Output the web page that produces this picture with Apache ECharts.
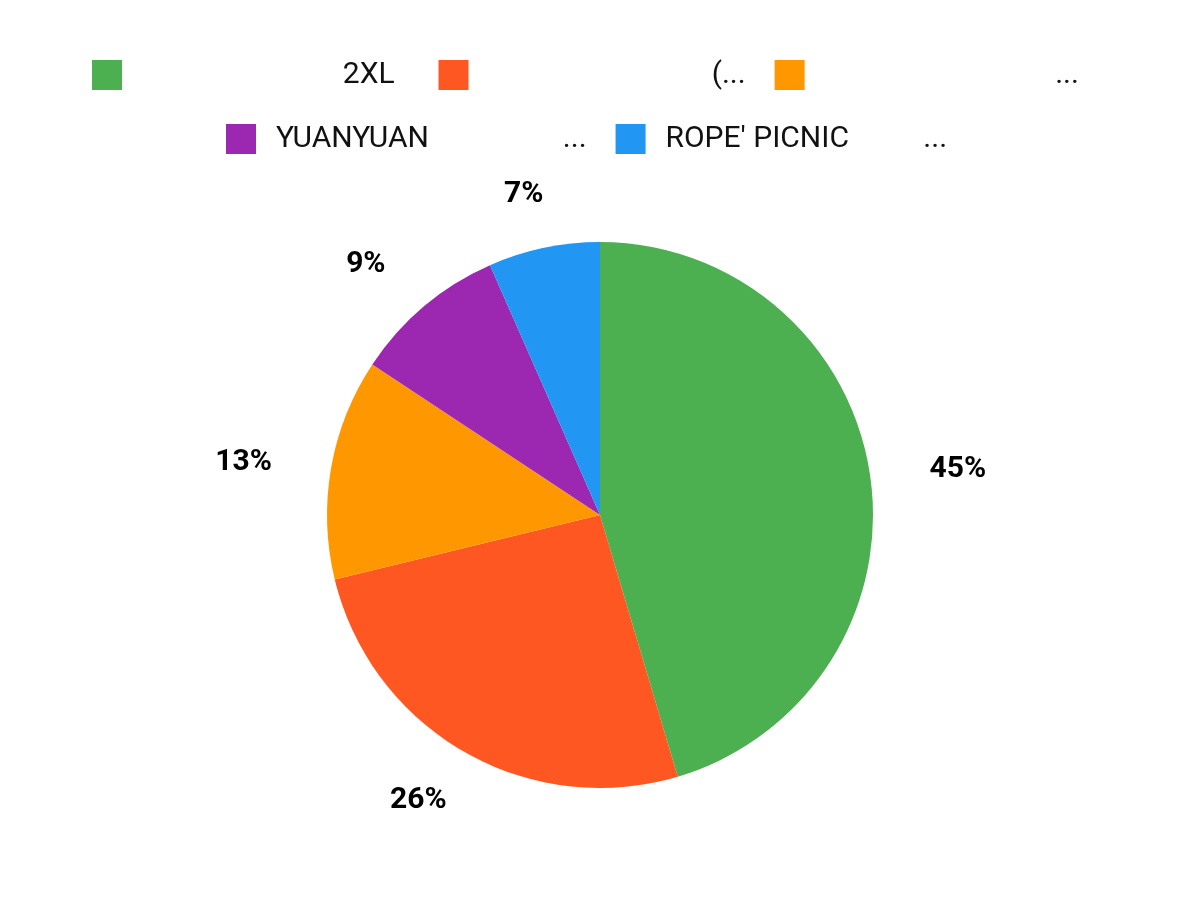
<!DOCTYPE html>
<html>
<head>
<meta charset="utf-8">
<script src="https://cdn.jsdelivr.net/npm/echarts@6/dist/echarts.min.js"></script>
<style>
  html, body { margin: 0; padding: 0; background: #ffffff; }
  #chart { width: 1200px; height: 900px; }
</style>
</head>
<body>
<div id="chart"></div>
<script>
// Legend / category names as displayed (glyphs that did not render appear as blank space)
const categories = [
  '                             2XL  ',
  '                                (...',
  '                                 ...',
  '  YUANYUAN                  ...',
  "  ROPE' PICNIC          ..."
];
const values = [45.4, 25.8, 13.1, 9.1, 6.6];
const colors = ['#4CAF50', '#FF5722', '#FF9800', '#9C27B0', '#2196F3'];
const legendRow1 = categories.slice(0, 3);
const legendRow2 = categories.slice(3);
// small label nudges (style only)
const labelDx = [0, 15, 0, 2, 16];
const labelDy = [2, 1, 4, 0, 0];

const chart = echarts.init(document.getElementById('chart'), null, { renderer: 'canvas' });

const legendCommon = {
  orient: 'horizontal',
  icon: 'rect',
  itemWidth: 30,
  itemHeight: 30,
  itemGap: 29,
  textStyle: { fontFamily: 'Roboto', fontSize: 30, color: '#111111' }
};

chart.setOption({
  animation: false,
  color: colors,
  legend: [
    Object.assign({}, legendCommon, { data: legendRow1, left: 87, top: 55 }),
    Object.assign({}, legendCommon, { data: legendRow2, left: 221, top: 119 })
  ],
  series: [{
    type: 'pie',
    center: [600, 515],
    radius: 273,
    startAngle: 90,
    clockwise: true,
    avoidLabelOverlap: false,
    data: categories.map((n, i) => ({ name: n, value: values[i] })),
    label: {
      show: true,
      position: 'outside',
      formatter: p => Math.round(p.percent) + '%',
      fontFamily: 'Roboto',
      fontSize: 30,
      fontWeight: 'bold',
      color: '#000000'
    },
    labelLine: { show: false, length: 55, length2: 0 },
    labelLayout: p => ({ dx: labelDx[p.dataIndex], dy: labelDy[p.dataIndex] }),
    itemStyle: { borderWidth: 0 }
  }]
});
</script>
</body>
</html>
